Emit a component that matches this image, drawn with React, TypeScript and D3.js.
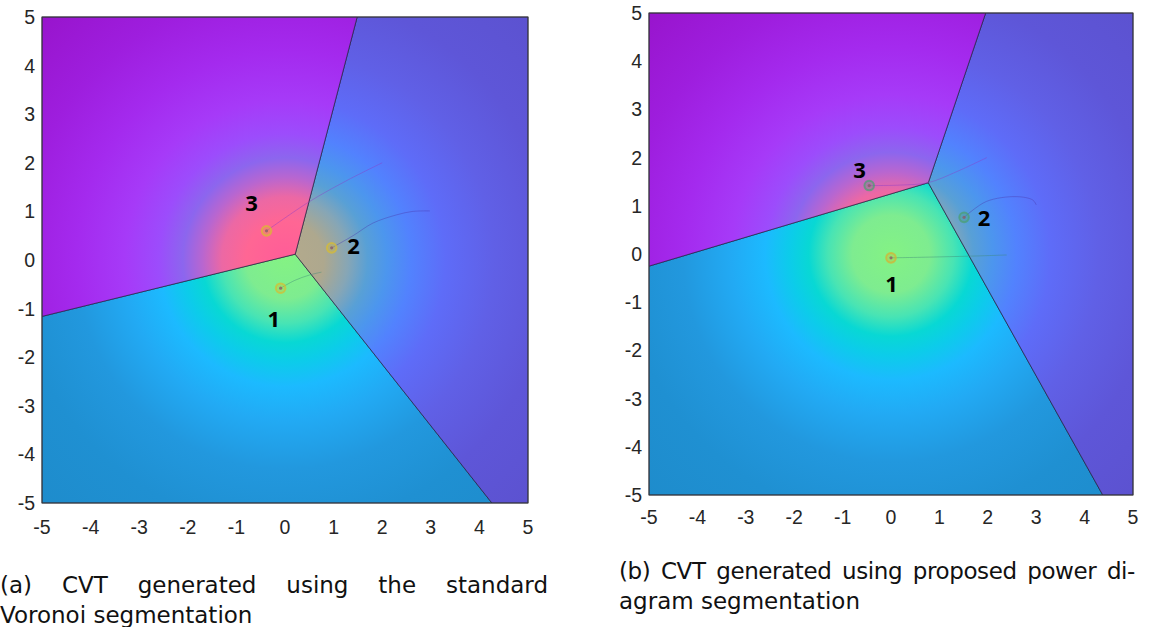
import React from "react";
import * as d3 from "d3";

// generator positions after convergence (data units)
const gensA = [[-0.09, -0.58], [0.96, 0.25], [-0.38, 0.6]];
const gensB = [[0.0, -0.08], [1.51, 0.76], [-0.45, 1.42]];
// power-diagram weights for panel (b)
const weightsB = [0, -1.96, -1.53];

// generator trajectories (from start points to the final generator)
const trailsA = [
  [[-0.09, -0.58], [0.2, -0.42], [0.5, -0.31], [0.75, -0.25]],
  [[0.96, 0.25], [1.4, 0.5], [1.81, 0.76], [2.3, 0.93], [2.63, 1.0], [2.98, 1.01]],
  [[-0.38, 0.6], [0.5, 1.2], [1.3, 1.65], [2.0, 2.0]],
];
const trailsB = [
  [[0.0, -0.08], [1.0, -0.06], [1.8, -0.04], [2.39, -0.02]],
  [[1.51, 0.76], [1.97, 1.09], [2.59, 1.19], [2.93, 1.12], [3.0, 1.02]],
  [[-0.45, 1.42], [0.19, 1.43], [0.77, 1.48], [1.36, 1.71], [1.98, 2.0]],
];

const labelsA = [[-0.23, -1.2], [1.41, 0.31], [-0.69, 1.2]];
const labelsB = [[0.01, -0.61], [1.92, 0.76], [-0.65, 1.76]];
const cellNames = ["1", "2", "3"];

const ticks = [-5, -4, -3, -2, -1, 0, 1, 2, 3, 4, 5];

// density colouring by distance from origin
const ringRadii = [0, 0.8, 1.3, 1.7, 2.1, 2.6, 3.3, 4.3, 5.5, 7.1];
const cellRamps = [
  ["#84f284", "#7eec90", "#48e4b4", "#08d8d4", "#0cccea", "#1cbaff", "#22aaf4", "#2298de", "#1f90d2", "#1e8ccc"],
  ["#b4aa8c", "#aea88e", "#86a6b6", "#58a0d6", "#4c96ee", "#5282fe", "#5e6cf8", "#6060e6", "#5e56d8", "#5c52d0"],
  ["#ff5c98", "#ff6694", "#ec68a4", "#b866d0", "#8c66ee", "#9c4cfc", "#a63af8", "#a42aee", "#9e1ede", "#9814cc"],
];

const trailColors = ["#3f8a78", "#4a3cb0", "#8a3cc8"];

function clipHalf(poly: number[][], a: number, b: number, c: number) {
  const out: number[][] = [];
  for (let k = 0; k < poly.length; k++) {
    const P = poly[k], Q = poly[(k + 1) % poly.length];
    const fp = a * P[0] + b * P[1] - c, fq = a * Q[0] + b * Q[1] - c;
    if (fp <= 0) out.push(P);
    if ((fp < 0 && fq > 0) || (fp > 0 && fq < 0)) {
      const t = fp / (fp - fq);
      out.push([P[0] + t * (Q[0] - P[0]), P[1] + t * (Q[1] - P[1])]);
    }
  }
  return out;
}

function powerCells(pts: number[][], w: number[]) {
  const square = [[-5, -5], [5, -5], [5, 5], [-5, 5]];
  return pts.map((p, i) => {
    let poly = square;
    pts.forEach((q, j) => {
      if (j === i) return;
      const a = 2 * (q[0] - p[0]);
      const b = 2 * (q[1] - p[1]);
      const c = q[0] ** 2 + q[1] ** 2 - p[0] ** 2 - p[1] ** 2 - w[j] + w[i];
      poly = clipHalf(poly, a, b, c);
    });
    return poly;
  });
}

const voronoiCells = (pts: number[][]) => {
  const v = d3.Delaunay.from(pts).voronoi([-5, -5, 5, 5]);
  return pts.map((_, i) => v.cellPolygon(i) as any as number[][]);
};

type PanelProps = {
  id: string;
  left: number; top: number; right: number; bottom: number;
  cells: number[][][];
  gens: number[][];
  trails: number[][][];
  labels: number[][];
  ringColors: string[];
  xLabelY: number;
};

const tickFont: React.CSSProperties = { fontFamily: "'Liberation Sans', Arial, sans-serif", fontSize: 19.5, fill: "#262626" };

const Panel = ({ id, left, top, right, bottom, cells, gens, trails, labels, ringColors, xLabelY }: PanelProps) => {
  const x = d3.scaleLinear().domain([-5, 5]).range([left, right]);
  const y = d3.scaleLinear().domain([-5, 5]).range([bottom, top]);
  const rMax = ringRadii[ringRadii.length - 1];
  const rPx = x(rMax) - x(0);
  const poly = (c: number[][]) => "M" + c.map(p => `${x(p[0])},${y(p[1])}`).join("L") + "Z";
  const line = d3.line<number[]>().x(d => x(d[0])).y(d => y(d[1])).curve(d3.curveCatmullRom);

  return (
    <g>
      <defs>
        {cellRamps.map((ramp, i) => (
          <radialGradient key={i} id={`${id}-g${i}`} gradientUnits="userSpaceOnUse"
            cx={x(0)} cy={y(0)} r={rPx}>
            {ramp.map((c, k) => (
              <stop key={k} offset={ringRadii[k] / rMax} stopColor={c} />
            ))}
          </radialGradient>
        ))}
      </defs>
      {cells.map((c, i) => (
        <path key={i} d={poly(c)} fill={`url(#${id}-g${i})`} stroke="#1c1c3a" strokeWidth={0.8} strokeOpacity={0.85} />
      ))}
      {trails.map((t, i) => (
        <path key={i} d={line(t) || ""} fill="none" stroke={trailColors[i]} strokeWidth={0.8} strokeOpacity={0.55} />
      ))}
      {gens.map((g, i) => (
        <g key={i}>
          <circle cx={x(g[0])} cy={y(g[1])} r={4.8} fill={ringColors[i]} fillOpacity={0.3}
            stroke={ringColors[i]} strokeWidth={2} strokeOpacity={0.7} />
          <circle cx={x(g[0])} cy={y(g[1])} r={1.6} fill="#8a5a6a" fillOpacity={0.8} />
        </g>
      ))}
      {labels.map((p, i) => (
        <text key={i} x={x(p[0])} y={y(p[1])} textAnchor="middle" dominantBaseline="central"
          style={{ fontFamily: "'Open Sans', sans-serif", fontWeight: 700, fontSize: 22, fill: "#000" }}>
          {cellNames[i]}
        </text>
      ))}
      <rect x={left} y={top} width={right - left} height={bottom - top} fill="none" stroke="#3a3a3a" strokeWidth={1} />
      {ticks.map(t => (
        <text key={"x" + t} x={x(t)} y={xLabelY} textAnchor="middle" style={tickFont}>{t}</text>
      ))}
      {ticks.map(t => (
        <text key={"y" + t} x={left - 7} y={y(t)} textAnchor="end" dominantBaseline="central" style={tickFont}>{t}</text>
      ))}
    </g>
  );
};

const captionStyle: React.CSSProperties = {
  position: "absolute",
  fontFamily: "'DejaVu Sans', sans-serif",
  fontSize: 23,
  lineHeight: "30px",
  color: "#111",
  whiteSpace: "nowrap",
};

export default function App() {
  const cellsA = voronoiCells(gensA);
  const cellsB = powerCells(gensB, weightsB);
  return (
    <div style={{ position: "absolute", left: 0, top: 0, width: 1167, height: 627, background: "#fff", overflow: "hidden" }}>
      <svg width={1167} height={627} style={{ position: "absolute", left: 0, top: 0 }}>
        <Panel id="a" left={42} top={17} right={528} bottom={503} cells={cellsA} gens={gensA}
          trails={trailsA} labels={labelsA} ringColors={["#d8bc30", "#d8bc30", "#d8bc30"]} xLabelY={534} />
        <Panel id="b" left={649} top={13} right={1133} bottom={495} cells={cellsB} gens={gensB}
          trails={trailsB} labels={labelsB} ringColors={["#d8b030", "#4aa070", "#4aa070"]} xLabelY={524} />
      </svg>
      <div style={{ ...captionStyle, left: 0, top: 570, width: 548, textAlign: "justify", textAlignLast: "justify" }}>
        (a) CVT generated using the standard
      </div>
      <div style={{ ...captionStyle, left: 0, top: 600 }}>Voronoi segmentation</div>
      <div style={{ ...captionStyle, left: 619, top: 556, width: 516, textAlign: "justify", textAlignLast: "justify", letterSpacing: "-0.4px" }}>
        (b) CVT generated using proposed power di-
      </div>
      <div style={{ ...captionStyle, left: 619, top: 586 }}>agram segmentation</div>
    </div>
  );
}
